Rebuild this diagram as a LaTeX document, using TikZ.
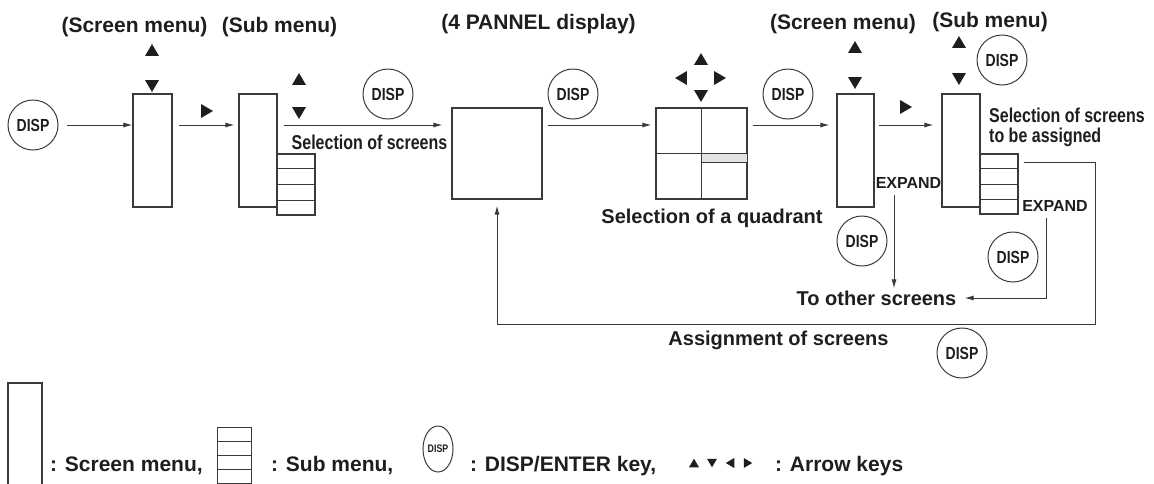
\documentclass[tikz,border=0pt]{standalone}
\usepackage{fontspec}
\usepackage{graphicx}
\setmainfont{Liberation Sans}
\usetikzlibrary{arrows.meta,calc,shapes.geometric}
\definecolor{linec}{HTML}{3A3A3A}
\definecolor{textc}{HTML}{1E1E1E}
\newcommand\nar[2]{\scalebox{#1}[1]{#2}}
\newcommand\dsp{\nar{0.8}{DISP}}
\newcommand\kup[3]{\fill[textc] ({#1-#3},{#2+0.85*#3}) -- ({#1+#3},{#2+0.85*#3}) -- (#1,{#2-0.85*#3}) -- cycle;}
\newcommand\kdn[3]{\fill[textc] ({#1-#3},{#2-0.85*#3}) -- ({#1+#3},{#2-0.85*#3}) -- (#1,{#2+0.85*#3}) -- cycle;}
\newcommand\klt[3]{\fill[textc] ({#1+0.85*#3},{#2-#3}) -- ({#1+0.85*#3},{#2+#3}) -- ({#1-0.85*#3},#2) -- cycle;}
\newcommand\krt[3]{\fill[textc] ({#1-0.85*#3},{#2-#3}) -- ({#1-0.85*#3},{#2+#3}) -- ({#1+0.85*#3},#2) -- cycle;}
\begin{document}
\begin{tikzpicture}[x=1pt,y=-1pt,
  ln/.style={draw=linec, line width=1.1pt},
  arr/.style={draw=linec, line width=1pt, -{Latex[length=9pt,width=5pt]}},
  box/.style={draw=linec, line width=1.1pt, inner sep=0pt, fill=white},
  disp/.style={circle, draw=linec, line width=1pt, minimum size=50pt, inner sep=0pt, text=textc, font=\bfseries\fontsize{17.5}{17.5}\selectfont},
  ttl/.style={font=\bfseries\fontsize{21}{24}\selectfont, inner sep=0pt, text=textc},
  lbl/.style={font=\bfseries\fontsize{20}{20}\selectfont, inner sep=0pt, text=textc},
  leg/.style={font=\bfseries\fontsize{21}{22}\selectfont, inner sep=0pt, text=textc, anchor=west},
  expd/.style={font=\bfseries\fontsize{16}{18}\selectfont, inner sep=0pt, text=textc},
]
\useasboundingbox (0,0) rectangle (1154,483);

% ---- main row nodes
\node[disp] (d0) at (33,125) {\dsp};
\node[box, minimum width=39pt, minimum height=113pt] (sm1) at (152.5,150.5) {};
\node[box, minimum width=38pt, minimum height=113pt] (sb1) at (258,150.5) {};
\node[box, minimum width=38pt, minimum height=61pt] (ls1) at (296,184.5) {};
\node[disp] (d1) at (388,94) {\dsp};
\node[box, minimum width=90pt, minimum height=91pt] (p4) at (497,153.5) {};
\node[disp] (d2) at (573,94) {\dsp};
\node[box, minimum width=91pt, minimum height=91pt] (q) at (701.5,153.5) {};
\node[disp] (d3) at (788,94) {\dsp};
\node[box, minimum width=37pt, minimum height=113pt] (sm2) at (855.5,150.5) {};
\node[box, minimum width=38pt, minimum height=113pt] (sb2) at (961,150.5) {};
\node[box, minimum width=38pt, minimum height=60pt] (ls2) at (999,184) {};
\node[disp] (d4) at (1002,60) {\dsp};
\node[disp] (d5) at (862,241) {\dsp};
\node[disp] (d6) at (1013,257) {\dsp};
\node[disp] (d7) at (962,353) {\dsp};

% sub-menu rows
\foreach \n in {ls1,ls2}{
  \foreach \k in {1,2,3}{
    \draw[linec, line width=1pt] ($(\n.north west)!\k/4!(\n.south west)$) -- ($(\n.north east)!\k/4!(\n.south east)$);
  }
}
% quadrant display
\draw[linec, line width=1pt] (q.north) -- (q.south);
\draw[linec, line width=1pt] (q.west) -- (q.center);
\filldraw[fill=gray!22, draw=linec, line width=1pt] (q.center) rectangle ([yshift=-9pt]q.east);

% ---- titles and labels
\node[ttl] (t1) at (134.5,27) {(Screen menu)};
\node[ttl] (t2) at (279.5,27) {(Sub menu)};
\node[ttl] (t3) at (538.5,24) {(4 PANNEL display)};
\node[ttl] (t4) at (843,24) {(Screen menu)};
\node[ttl] (t5) at (990,22) {(Sub menu)};
\node[lbl] (sel) at (369.5,142) {\nar{0.8}{Selection of screens}};
\node[lbl] (selq) at (712,218) {Selection of a quadrant};
\node[lbl, align=left, anchor=west] (sela) at (989,127) {\nar{0.8}{Selection of screens}\\\nar{0.8}{to be assigned}};
\node[expd] (e1) at (908.5,183) {EXPAND};
\node[expd] (e2) at (1055,206) {EXPAND};
\node[lbl] (to) at (876.5,298) {To other screens};
\node[lbl] (asg) at (778.5,340) {Assignment of screens};

% ---- arrow keys
\kup{152}{50}{7} \kdn{152}{86}{7}
\krt{207}{111}{7}
\kup{299}{79}{7} \kdn{299}{113}{7}
\kup{701}{59}{7} \klt{681}{78}{7} \krt{720}{78}{7} \kdn{701}{96}{7}
\kup{855}{47}{7} \kdn{855}{83}{7}
\krt{906}{107}{7}
\kup{959}{42}{7} \kdn{959}{79}{7}

% ---- connectors
\draw[arr] ([xshift=8pt]d0.east) -- (sm1.west |- d0.east);
\draw[arr] ([xshift=6pt]sm1.east |- d0) -- ([xshift=-4pt]sb1.west |- d0);
\draw[arr] ([xshift=6pt]sb1.east |- d0) -- ([xshift=-9pt]p4.west |- d0);
\draw[arr] ([xshift=5pt]p4.east |- d0) -- ([xshift=-4pt]q.west |- d0);
\draw[arr] ([xshift=5pt]q.east |- d0) -- ([xshift=-7pt]sm2.west |- d0);
\draw[arr] ([xshift=4pt]sm2.east |- d0) -- ([xshift=-8pt]sb2.west |- d0);

\coordinate (x1) at ([xshift=-14.5pt,yshift=-6pt]e1.south);
\draw[arr] (x1) -- ([yshift=2pt]x1 |- to.north);
\draw[arr] ([xshift=-9pt,yshift=-6pt]e2.south) |- ([xshift=8pt]to.east);

\coordinate (lpA) at ([xshift=5pt,yshift=-9pt]ls2.north east);
\coordinate (lpB) at (1095,324);
\draw[arr] (lpA) -- (lpA -| lpB) -- (lpB) -- (lpB -| p4.south) -- ([yshift=-6pt]p4.south);

% ---- legend
\draw[linec, line width=1.1pt] (8,485) -- (8,383) -- (42,383) -- (42,485);
\node[leg] (lg1) at (50,466) {: Screen menu,};
\node[box, minimum width=34pt, minimum height=56pt, anchor=north west] (lgs) at (217,427) {};
\foreach \k in {1,2,3}{
  \draw[linec, line width=1pt] ($(lgs.north west)!\k/4!(lgs.south west)$) -- ($(lgs.north east)!\k/4!(lgs.south east)$);
}
\node[leg] (lg2) at (271,466) {: Sub menu,};
\node[ellipse, draw=linec, line width=1pt, minimum width=30pt, minimum height=46pt, inner sep=0pt, text=textc, font=\bfseries\fontsize{11}{11}\selectfont] (lgd) at (438,449) {\nar{0.8}{DISP}};
\node[leg] (lg3) at (470,466) {: DISP/ENTER key,};
\kup{694}{463}{5} \kdn{712}{463}{5} \klt{730}{463}{5} \krt{748}{463}{5}
\node[leg] (lg4) at (775,466) {: Arrow keys};
\end{tikzpicture}
\end{document}
